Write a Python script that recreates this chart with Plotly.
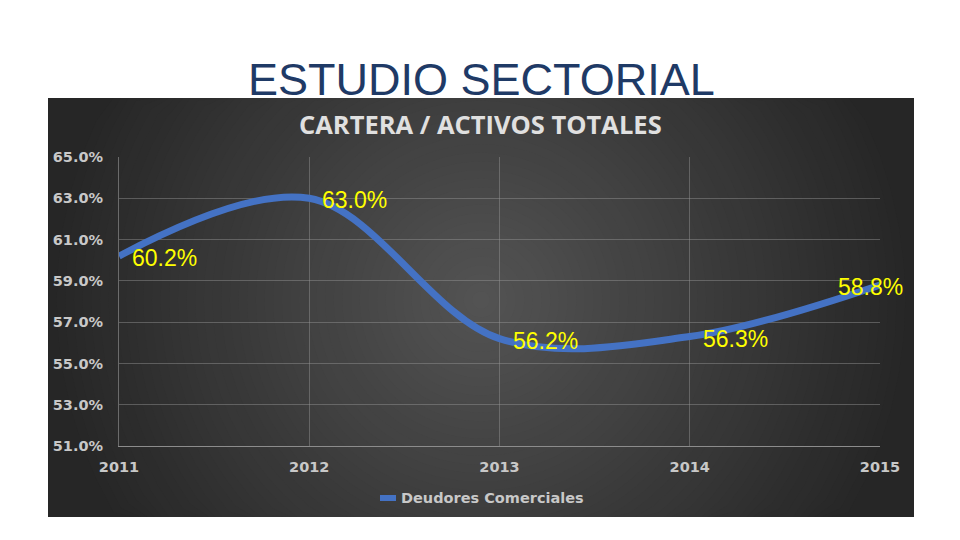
import math
import plotly.graph_objects as go

# datos
years = [2011, 2012, 2013, 2014, 2015]
cartera = [0.602, 0.630, 0.562, 0.563, 0.588]
etiquetas = ["60.2%", "63.0%", "56.2%", "56.3%", "58.8%"]
serie = "Deudores Comerciales"
titulo = "ESTUDIO SECTORIAL"
subtitulo = "CARTERA / ACTIVOS TOTALES"

W, H = 960, 540
L, R, T, B = 119, 80, 157, 94
PW, PH = W - L - R, H - T - B


def px(x):
    return (x - L) / PW


def py(y):
    return (H - B - y) / PH


fig = go.Figure()

fig.add_trace(go.Scatter(
    x=years,
    y=cartera,
    name=serie,
    mode="lines",
    line=dict(color="#4472C4", width=7, shape="spline", smoothing=1.0),
    cliponaxis=False,
    showlegend=False,
))

# etiquetas de datos (amarillas, a la derecha del punto)
annotations = []
for i, (x, y, t) in enumerate(zip(years, cartera, etiquetas)):
    last = i == len(years) - 1
    annotations.append(dict(
        x=x, y=y, text=t, showarrow=False,
        xanchor="right" if last else "left", yanchor="middle",
        xshift=25 if last else 11, yshift=-2,
        font=dict(family="Liberation Sans, Arial", size=23, color="#FFFF00"),
    ))

# fondo oscuro con degradado radial (elipses recortadas al panel)
x0, x1, y0, y1 = 48, 914, 98, 517
shapes = [dict(type="rect", xref="paper", yref="paper", layer="below",
               x0=px(x0), x1=px(x1), y0=py(y1), y1=py(y0),
               fillcolor="#262626", line_width=0)]
cx, cy = 481, 300
n = 50
for i in range(1, n):
    f = 1 - i / n
    rx, ry = 433 * f, 433 * f
    c = round(0x26 + (0x54 - 0x26) * (i / n))
    pts = []
    for k in range(72):
        a = 2 * math.pi * k / 72
        xx = min(max(cx + rx * math.cos(a), x0), x1)
        yy = min(max(cy + ry * math.sin(a), y0), y1)
        pts.append(f"{px(xx):.4f},{py(yy):.4f}")
    shapes.append(dict(type="path", xref="paper", yref="paper", layer="below",
                       path="M" + "L".join(pts) + "Z",
                       fillcolor=f"rgb({c},{c},{c})", line_width=0))

# leyenda manual
shapes.append(dict(type="rect", xref="paper", yref="paper", layer="above",
                   x0=px(380), x1=px(396), y0=py(501), y1=py(495),
                   fillcolor="#4472C4", line_width=0))
annotations.append(dict(text=f"<b>{serie}</b>", xref="paper", yref="paper",
                        x=px(399), y=py(498), xanchor="left", yanchor="middle",
                        showarrow=False,
                        font=dict(family="DejaVu Sans", size=14.5, color="#C8C8C8")))

annotations += [
    dict(text=titulo, xref="paper", yref="paper", x=px(481), y=py(80),
         xanchor="center", yanchor="middle", showarrow=False,
         font=dict(family="Liberation Sans, Arial", size=45, color="#1F3A66")),
    dict(text=f"<b>{subtitulo}</b>", xref="paper", yref="paper", x=px(480), y=py(124),
         xanchor="center", yanchor="middle", showarrow=False,
         font=dict(family="Open Sans", size=25.5, color="#E0E0E0")),
]

fig.update_layout(
    width=W, height=H,
    margin=dict(l=L, r=R, t=T, b=B),
    paper_bgcolor="white",
    plot_bgcolor="rgba(0,0,0,0)",
    shapes=shapes,
    annotations=annotations,
    showlegend=False,
)

tick_font = dict(family="DejaVu Sans", size=14.5, color="#C8C8C8", weight="bold")
fig.update_xaxes(
    range=[2011, 2015], tickvals=years, ticktext=[str(y) for y in years],
    showgrid=True, gridcolor="rgba(150,150,150,0.45)", gridwidth=1,
    showline=True, linecolor="#8C8C8C", linewidth=1,
    ticks="", ticklabelstandoff=8, zeroline=False, tickfont=tick_font,
)
fig.update_yaxes(
    range=[0.51, 0.65], dtick=0.02, tick0=0.51, tickformat=".1%",
    showgrid=True, gridcolor="rgba(150,150,150,0.45)", gridwidth=1,
    showline=True, linecolor="rgba(150,150,150,0.6)", linewidth=1,
    ticks="", ticklabelstandoff=12, zeroline=False, tickfont=tick_font,
)

fig.write_html("out.html", config={"displayModeBar": False},
               post_script="document.body.style.margin='0';")
